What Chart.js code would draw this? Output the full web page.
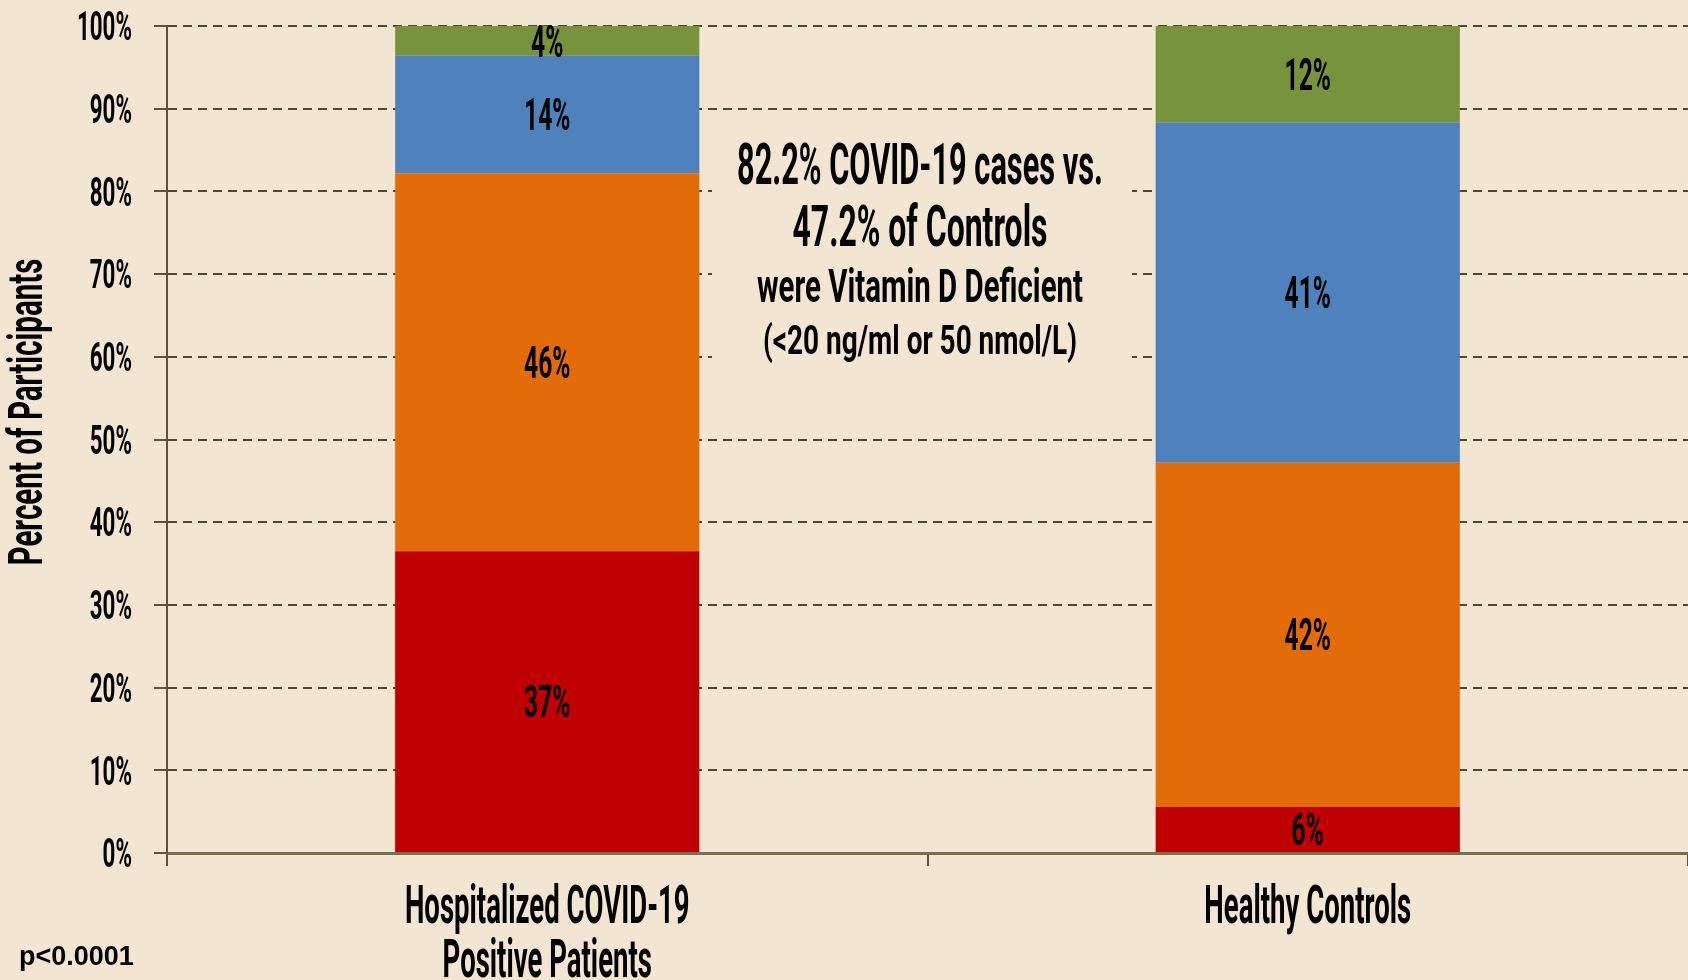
<!DOCTYPE html>
<html>
<head>
<meta charset="utf-8">
<script src="https://cdn.jsdelivr.net/npm/chart.js@4.4.1/dist/chart.umd.min.js"></script>
<style>
  html, body { margin: 0; padding: 0; background: #F2E6D3; }
  canvas { display: block; }
</style>
</head>
<body>
<canvas id="vitD" width="1688" height="980"></canvas>
<script>
// categories and the four vitamin D bands (percent of participants)
const categories = [['Hospitalized COVID-19', 'Positive Patients'], ['Healthy Controls']];
const bandRed = [36.5, 5.6];
const bandOrange = [45.7, 41.6];
const bandBlue = [14.2, 41.1];
const bandGreen = [3.6, 11.7];
const yTickValues = [0, 10, 20, 30, 40, 50, 60, 70, 80, 90, 100];

const noteLines = [
  '82.2% COVID-19 cases vs.',
  '47.2% of Controls',
  'were Vitamin D Deficient',
  '(<20 ng/ml or 50 nmol/L)'
];

const BG = '#F2E6D3';
const INK = '#000000';
const FONT = 'Roboto, "Open Sans", sans-serif';
const GRID = '#4D4731';

// draw bold text squeezed horizontally (the original uses a narrow gothic face)
function squeeze(ctx, text, x, y, size, sx, align) {
  ctx.save();
  ctx.font = `bold ${size}px ${FONT}`;
  ctx.fillStyle = INK;
  ctx.textAlign = align || 'center';
  ctx.textBaseline = 'alphabetic';
  ctx.translate(x, y + size * 0.355);
  ctx.scale(sx, 1);
  ctx.fillText(text, 0, 0);
  ctx.restore();
}

// same, but stretched to a given width
function fit(ctx, text, x, y, size, width) {
  ctx.save();
  ctx.font = `bold ${size}px ${FONT}`;
  const w = ctx.measureText(text).width;
  ctx.restore();
  squeeze(ctx, text, x, y, size, width / w, 'center');
}

const paper = {
  id: 'paper',
  beforeDraw(chart) {
    const c = chart.ctx;
    c.save();
    c.fillStyle = BG;
    c.fillRect(0, 0, chart.width, chart.height);
    c.restore();
  },
  beforeDatasetsDraw(chart) {
    // text box in the middle hides the grid behind it
    const c = chart.ctx;
    c.save();
    c.fillStyle = BG;
    c.fillRect(712, 126, 420, 246);
    c.restore();
    const cx = 920;
    fit(c, noteLines[0], cx, 164, 57, 366);
    fit(c, noteLines[1], cx, 226, 57, 255);
    fit(c, noteLines[2], cx, 285, 47, 326);
    fit(c, noteLines[3], cx, 339, 41, 314);
  },
  afterDatasetsDraw(chart) {
    const c = chart.ctx;
    chart.data.datasets.forEach((ds, i) => {
      const meta = chart.getDatasetMeta(i);
      meta.data.forEach((bar, j) => {
        const v = ds.data[j];
        const mid = (bar.y + bar.base) / 2;
        squeeze(c, Math.round(v) + '%', bar.x, mid, 44, 0.56, 'center');
      });
    });
  },
  afterDraw(chart) {
    const c = chart.ctx;
    const ys = chart.scales.y;
    const xs = chart.scales.x;
    yTickValues.forEach(v => {
      squeeze(c, v + '%', 132, ys.getPixelForValue(v), 40, 0.56, 'right');
    });
    categories.forEach((lines, i) => {
      const x = xs.getPixelForValue(i);
      lines.forEach((t, k) => {
        squeeze(c, t, x, 904 + k * 54, 54, 0.51, 'center');
      });
    });
    // axis title
    c.save();
    c.translate(25, 412);
    c.rotate(-Math.PI / 2);
    fit(c, 'Percent of Participants', 0, 0, 48, 307);
    c.restore();
    // significance note
    c.save();
    c.font = 'bold 27px "Liberation Sans", Arial, sans-serif';
    c.fillStyle = INK;
    c.textBaseline = 'middle';
    c.textAlign = 'left';
    c.fillText('p<0.0001', 19, 958);
    c.restore();
  }
};

new Chart(document.getElementById('vitD'), {
  type: 'bar',
  data: {
    labels: categories,
    datasets: [
      { label: 'red', data: bandRed, backgroundColor: '#C00000' },
      { label: 'orange', data: bandOrange, backgroundColor: '#E36C0A' },
      { label: 'blue', data: bandBlue, backgroundColor: '#4F81BD' },
      { label: 'green', data: bandGreen, backgroundColor: '#77933C' }
    ]
  },
  options: {
    responsive: false,
    animation: false,
    layout: { padding: { top: 26, right: 0, left: 0, bottom: 0 } },
    datasets: { bar: { barPercentage: 0.4, categoryPercentage: 1.0, borderWidth: 0 } },
    plugins: { legend: { display: false }, tooltip: { enabled: false } },
    scales: {
      x: {
        stacked: true,
        ticks: { display: false },
        grid: { display: true, drawOnChartArea: false, drawTicks: true, tickLength: 13, color: '#5B5538', lineWidth: 2 },
        border: { display: true, color: '#77704F', width: 3 },
        afterFit(s) { s.height = 127; }
      },
      y: {
        stacked: true,
        min: 0,
        max: 100,
        ticks: { display: false, stepSize: 10 },
        grid: { color: GRID, lineWidth: 2, tickLength: 13, tickBorderDash: [], tickColor: '#5B5538' },
        border: { display: true, color: '#5B5538', width: 2, dash: [9, 6] },
        afterFit(s) { s.width = 167; }
      }
    }
  },
  plugins: [paper]
});
</script>
</body>
</html>
